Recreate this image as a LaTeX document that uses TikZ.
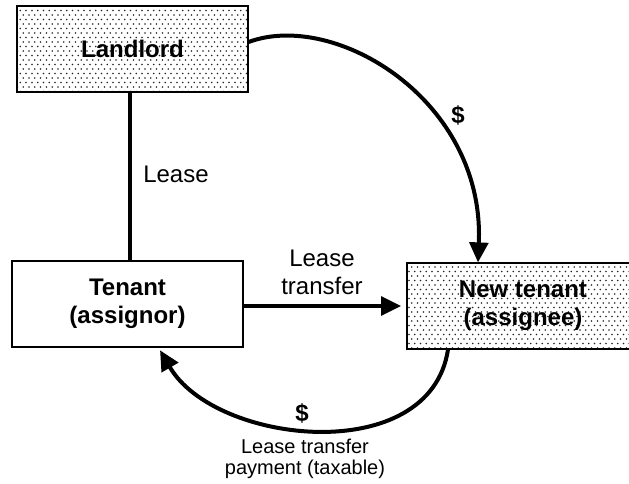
\documentclass[tikz,border=0pt]{standalone}
\usepackage{fontspec}
\setmainfont{Liberation Sans}
\usetikzlibrary{arrows.meta,patterns}
\pgfdeclarepatternformonly{mydots}{\pgfqpoint{-1pt}{-1pt}}{\pgfqpoint{5.35pt}{7.75pt}}{\pgfqpoint{4.35pt}{6.75pt}}{%
  \pgfpathcircle{\pgfqpoint{0pt}{0pt}}{0.65pt}%
  \pgfpathcircle{\pgfqpoint{2.175pt}{3.375pt}}{0.65pt}%
  \pgfusepath{fill}}
\begin{document}
\begin{tikzpicture}[x=0.75pt,y=-0.75pt,
  box/.style={draw,line width=0.9pt,inner sep=0pt,align=center,
    minimum width=173.25pt,minimum height=64.5pt,
    font=\fontsize{18}{21}\selectfont\bfseries},
  shaded/.style={box,pattern=mydots,pattern color=black!85},
  conn/.style={line width=3pt},
  arr/.style={conn,-{Triangle[length=15pt,width=14pt]}},
  lbl/.style={font=\fontsize{18}{21}\selectfont,align=center,inner sep=0pt},
  dollar/.style={font=\fontsize{18}{21}\selectfont\bfseries,inner sep=0pt},
  small/.style={font=\fontsize{15}{15.75}\selectfont,align=center,inner sep=0pt}]
\useasboundingbox (0,0) rectangle (629,483);
\node[shaded] (landlord) at (132.5,49) {Landlord};
\node[box] (tenant) at (127.5,304) {Tenant\\(assignor)};
\node[shaded,minimum width=174pt] (newt) at (523,306) {New tenant\\(assignee)};
\draw[conn] ([xshift=-1.875pt]landlord.south) -- ([xshift=-1.875pt]landlord.south |- tenant.north);
\node[lbl,anchor=base west] (leaselbl) at (143,182) {Lease};
\draw[arr] (tenant.east |- newt.west) -- ([xshift=-4pt]newt.west);
\node[lbl] (transferlbl) at (322,272) {Lease\\transfer};
\draw[arr] ([yshift=5.25pt]landlord.east) .. controls (335,10) and (485,100) .. ([xshift=-33.75pt]newt.north);
\node[dollar] (d1) at (458,115) {\$};
\draw[arr] ([xshift=-56.25pt]newt.south) .. controls (430,468) and (215,445) .. ([xshift=24.4pt,yshift=-2pt]tenant.south);
\node[dollar] (d2) at (302,413) {\$};
\node[small] (paylbl) at (305,459) {Lease transfer\\payment (taxable)};
\end{tikzpicture}
\end{document}
